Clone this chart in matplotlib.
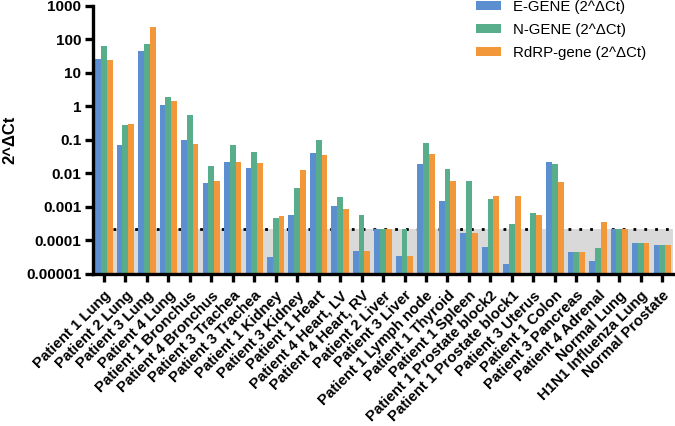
import numpy as np
import matplotlib
matplotlib.use("Agg")
import matplotlib.pyplot as plt
from matplotlib.ticker import FixedLocator, NullLocator
from matplotlib.transforms import ScaledTranslation

plt.rcParams['font.family'] = ['Liberation Sans', 'DejaVu Sans']
plt.rcParams['font.weight'] = 'bold'

samples = ['Patient 1 Lung', 'Patient 2 Lung', 'Patient 3 Lung', 'Patient 4 Lung',
           'Patient 1 Bronchus', 'Patient 4 Bronchus', 'Patient 3 Trachea',
           'Patient 3 Trachea', 'Patient 1 Kidney', 'Patient 3 Kidney',
           'Patient 1 Heart', 'Patient 4 Heart, LV', 'Patient 4 Heart, RV',
           'Patient 2 Liver', 'Patient 3 Liver', 'Patient 1 Lymph node',
           'Patient 1 Thyroid', 'Patient 1 Spleen', 'Patient 1 Prostate block2',
           'Patient 1 Prostate block1', 'Patient 3 Uterus', 'Patient 1 Colon',
           'Patient 3 Pancreas', 'Patient 4 Adrenal', 'Normal Lung',
           'H1N1 Influenza Lung', 'Normal Prostate']

e_gene = [26, 0.071, 44, 1.08, 0.102, 0.0053, 0.0225, 0.0149, 3.1e-5, 5.9e-4,
          0.040, 1.07e-3, 4.75e-5, 2.2e-4, 3.5e-5, 0.0192, 1.5e-3, 1.67e-4,
          6.2e-5, 2.0e-5, np.nan, 0.0216, 4.4e-5, 2.45e-5, 2.2e-4, 8.2e-5, 7.2e-5]
n_gene = [62, 0.27, 72, 1.88, 0.545, 0.0164, 0.072, 0.043, 4.8e-4, 3.6e-3,
          0.1, 1.95e-3, 5.8e-4, 2.2e-4, 2.2e-4, 0.083, 0.0136, 6.1e-3,
          1.77e-3, 3.2e-4, 6.8e-4, 0.0188, 4.4e-5, 5.8e-5, 2.2e-4, 8.2e-5, 7.2e-5]
rdrp_gene = [24, 0.29, 231, 1.49, 0.076, 0.006, 0.0216, 0.020, 5.5e-4, 0.0125,
             0.0365, 8.5e-4, 4.75e-5, 2.2e-4, 3.5e-5, 0.038, 5.8e-3, 1.67e-4,
             2.08e-3, 2.08e-3, 5.65e-4, 5.6e-3, 4.4e-5, 3.65e-4, 2.2e-4, 8.2e-5, 7.2e-5]
threshold = 2.2e-4

yticks = [1e-5, 1e-4, 1e-3, 1e-2, 1e-1, 1, 10, 100, 1000]
ytick_labels = ['0.00001', '0.0001', '0.001', '0.01', '0.1', '1', '10', '100', '1000']

fig = plt.figure(figsize=(6.75, 4.26), dpi=100)
ax = fig.add_axes([0.138, 0.357, 0.859, 0.629])

x = np.arange(len(samples))
w = 0.27
ax.bar(x - w, e_gene, w, color='#5b8fcf', label='E-GENE (2^\u0394Ct)', zorder=2)
ax.bar(x, n_gene, w, color='#58ae8a', label='N-GENE (2^\u0394Ct)', zorder=2)
ax.bar(x + w, rdrp_gene, w, color='#f2983a', label='RdRP-gene (2^\u0394Ct)', zorder=2)

# grey band + dotted line at the detection limit
x0 = 1.5 * w
x1 = len(samples) - 0.5
ax.fill_between([x0, x1], 1e-5, threshold, color='#d9d9d9', lw=0, zorder=0)
ax.hlines(threshold, x0, x1, colors='black', linestyles=(0, (1, 2.9)), lw=2, zorder=1)

ax.set_yscale('log')
ax.set_ylim(1e-5, 1000)
ax.set_xlim(-0.5, len(samples) - 0.5)
ax.yaxis.set_major_locator(FixedLocator(yticks))
ax.yaxis.set_minor_locator(NullLocator())
ax.set_yticklabels(ytick_labels, fontsize=11, fontweight='bold')
ax.set_xticks(x)
ax.set_xticklabels(samples, rotation=45, ha='right', rotation_mode='anchor',
                   fontsize=10.8, fontweight='bold')
# nudge the slanted labels a bit to the right, like the original
shift = ScaledTranslation(0.075, 0, fig.dpi_scale_trans)
for lab in ax.get_xticklabels():
    lab.set_transform(lab.get_transform() + shift)
ax.set_ylabel('2^\u0394Ct', fontsize=12, fontweight='bold', labelpad=6)

for s in ['top', 'right']:
    ax.spines[s].set_visible(False)
for s in ['left', 'bottom']:
    ax.spines[s].set_linewidth(2.4)
ax.tick_params(axis='both', which='major', length=6, width=2.4, direction='out')
ax.tick_params(axis='y', pad=2.5)
ax.tick_params(axis='x', pad=4.5)

ax.legend(loc='upper left', bbox_to_anchor=(0.705, 1.0), bbox_transform=fig.transFigure,
          frameon=False, borderpad=0, borderaxespad=0,
          handlelength=1.65, handleheight=0.5, labelspacing=0.6, handletextpad=0.85,
          prop={'weight': 'normal', 'size': 10.8})

fig.savefig('out.png', dpi=100)
